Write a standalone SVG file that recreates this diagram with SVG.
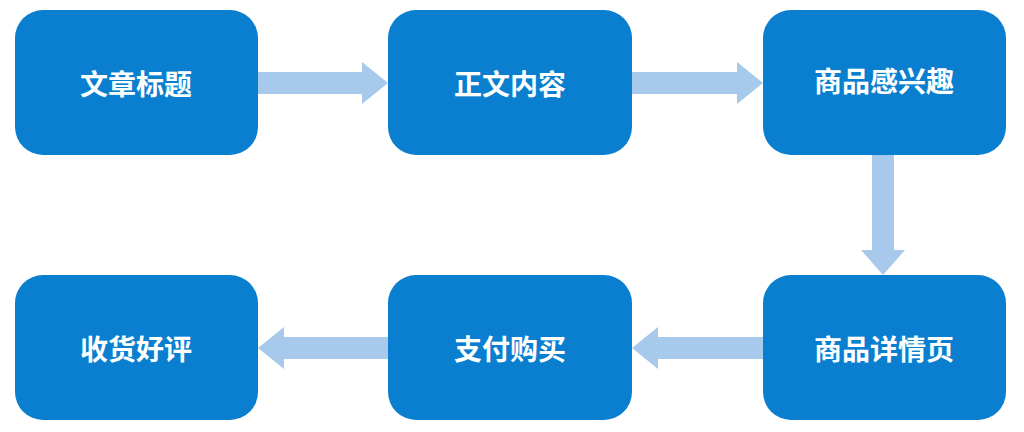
<svg xmlns="http://www.w3.org/2000/svg" width="1024" height="432" viewBox="0 0 1024 432">
<style>
.n{fill:#0a7fd0}
.t{fill:#fff;font-family:"Noto Sans CJK SC",sans-serif;font-weight:bold;font-size:28px;text-anchor:middle;dominant-baseline:central}
.a{fill:#a7c9ec}
</style>
<rect width="1024" height="432" fill="#fff"/>
<g id="connectors">
<polygon class="a" points="258,72 362,72 362,62 388,83 362,104 362,94 258,94"/>
<polygon class="a" points="632,72 737,72 737,62 763,83 737,104 737,94 632,94"/>
<polygon class="a" points="872,155 894,155 894,250 905,250 883,275 861,250 872,250"/>
<polygon class="a" points="763,337 658,337 658,327 632,348 658,369 658,359 763,359"/>
<polygon class="a" points="388,337 284,337 284,327 258,348 284,369 284,359 388,359"/>
</g>
<g id="n1"><rect class="n" x="15" y="10" width="243" height="145" rx="28"/><text class="t" x="136" y="83">文章标题</text></g>
<g id="n2"><rect class="n" x="388" y="10" width="244" height="145" rx="28"/><text class="t" x="510" y="83">正文内容</text></g>
<g id="n3"><rect class="n" x="763" y="10" width="243" height="145" rx="28"/><text class="t" x="884" y="80">商品感兴趣</text></g>
<g id="n4"><rect class="n" x="763" y="275" width="243" height="145" rx="28"/><text class="t" x="884" y="348">商品详情页</text></g>
<g id="n5"><rect class="n" x="388" y="275" width="244" height="145" rx="28"/><text class="t" x="510" y="348">支付购买</text></g>
<g id="n6"><rect class="n" x="15" y="275" width="243" height="145" rx="28"/><text class="t" x="136" y="348">收货好评</text></g>
</svg>
